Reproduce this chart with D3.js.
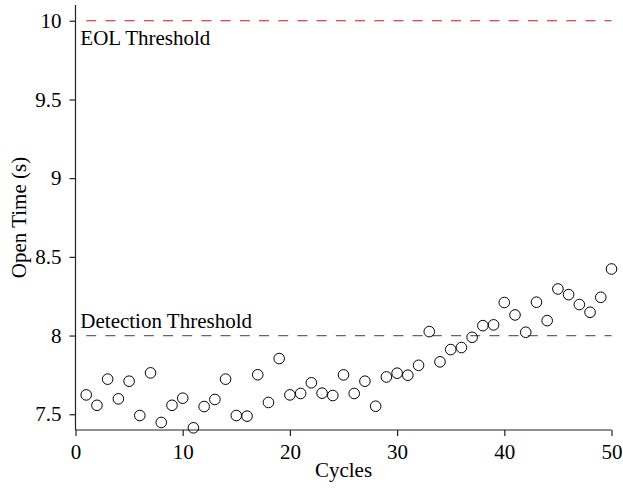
<!DOCTYPE html>
<html>
<head>
<meta charset="utf-8">
<script src="https://cdn.jsdelivr.net/npm/d3@7"></script>
<style>
  body { margin: 0; background: #fff; }
  svg, svg text { font-family: "Liberation Serif", "Times New Roman", serif; }
</style>
</head>
<body>
<svg id="chart" width="623" height="489"></svg>
<script>
const cycles = d3.range(1, 51);
const openTime = [
  7.623, 7.557, 7.723, 7.598, 7.710, 7.492, 7.763, 7.448, 7.557, 7.602,
  7.414, 7.549, 7.594, 7.723, 7.492, 7.488, 7.751, 7.575, 7.854, 7.623,
  7.632, 7.700, 7.634, 7.619, 7.750, 7.632, 7.710, 7.551, 7.737, 7.761,
  7.748, 7.811, 8.025, 7.833, 7.911, 7.924, 7.989, 8.063, 8.068, 8.210,
  8.131, 8.021, 8.212, 8.095, 8.296, 8.260, 8.197, 8.148, 8.243, 8.423
];
const xTicks = [0, 10, 20, 30, 40, 50];
const yTicks = [7.5, 8, 8.5, 9, 9.5, 10];
const thresholds = [
  { name: "EOL Threshold", value: 10, color: "#e01010" },
  { name: "Detection Threshold", value: 8, color: "#666666" }
];
const xLabel = "Cycles";
const yLabel = "Open Time (s)";

const svg = d3.select("#chart");
const x = d3.scaleLinear().domain([0, 50]).range([75.5, 611.5]);
const y = d3.scaleLinear().domain([7.4, 10.1]).range([430, 5]);
const fs = 21;
const ff = '"Liberation Serif", "Times New Roman", serif';

// threshold lines
thresholds.forEach((t) => {
  svg.append("line")
    .attr("x1", x(1)).attr("x2", x(50))
    .attr("y1", y(t.value)).attr("y2", y(t.value))
    .attr("stroke", t.color).attr("stroke-width", 1.2)
    .attr("stroke-dasharray", "10,9.2");
});
svg.append("text").attr("x", x(0.45)).attr("y", y(10) + 24)
  .style("font-family", ff).style("font-size", fs + "px").attr("fill", "#000").text(thresholds[0].name);
svg.append("text").attr("x", x(0.45)).attr("y", y(8) - 8)
  .style("font-family", ff).style("font-size", fs + "px").attr("fill", "#000").text(thresholds[1].name);

// axes
const xAxis = svg.append("g").attr("transform", `translate(0,${y(7.4)})`)
  .call(d3.axisBottom(x).tickValues(xTicks).tickSize(6).tickPadding(8).tickFormat(d3.format("d")));
const yAxis = svg.append("g").attr("transform", `translate(${x(0)},0)`)
  .call(d3.axisLeft(y).tickValues(yTicks).tickSize(6).tickPadding(8).tickFormat(d => String(d)));
[xAxis, yAxis].forEach(g => {
  g.attr("font-family", null).attr("font-size", null);
  g.select(".domain").attr("stroke", "#222").attr("stroke-width", 1.2);
  g.selectAll(".tick line").attr("stroke", "#222").attr("stroke-width", 1.2);
  g.selectAll(".tick text").style("font-size", fs + "px").style("font-family", ff).attr("fill", "#000");
});
xAxis.select(".domain").attr("d", `M${x(0)},0H${x(50)}`);
yAxis.select(".domain").attr("d", `M0,${y(7.4)}V${y(10.1)}`);

// points
svg.append("g").selectAll("circle").data(cycles).join("circle")
  .attr("cx", (d) => x(d))
  .attr("cy", (d, i) => y(openTime[i]))
  .attr("r", 5.3)
  .attr("fill", "none")
  .attr("stroke", "#000").attr("stroke-width", 1);

// axis labels
svg.append("text").attr("x", (x(0) + x(50)) / 2).attr("y", 477)
  .attr("text-anchor", "middle").style("font-family", ff).style("font-size", fs + "px").text(xLabel);
svg.append("text")
  .attr("transform", `translate(26,${(y(7.4) + y(10.1)) / 2}) rotate(-90)`)
  .attr("text-anchor", "middle").style("font-family", ff).style("font-size", fs + "px").text(yLabel);
</script>
</body>
</html>
